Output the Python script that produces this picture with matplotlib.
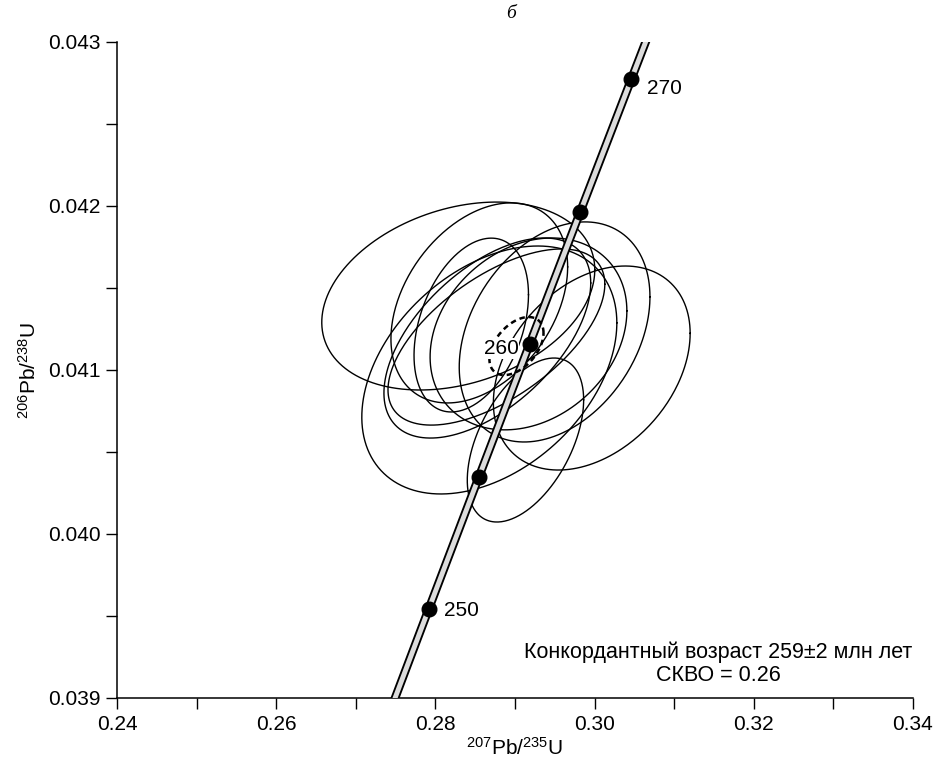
import numpy as np
import matplotlib
matplotlib.use("Agg")
import matplotlib.pyplot as plt

plt.rcParams['font.family'] = ['Liberation Sans', 'DejaVu Sans']
plt.rcParams['mathtext.fontset'] = 'custom'
plt.rcParams['mathtext.rm'] = 'Liberation Sans'
plt.rcParams['mathtext.it'] = 'Liberation Sans:italic'

# Decay constants (1/yr)
LAMBDA_238 = 1.55125e-10
LAMBDA_235 = 9.8485e-10

# Concordia age marks, Ma
mark_ages = [250, 255, 260, 265, 270]
labelled_ages = [250, 260, 270]

# Analyses: 207Pb/235U, 206Pb/238U, error half-widths and error correlation
x_centres = [0.28288, 0.29965, 0.29132, 0.28678, 0.28552, 0.28451, 0.29170, 0.29498, 0.28653, 0.28767]
y_centres = [0.041451, 0.041012, 0.040573, 0.041000, 0.041409, 0.041274, 0.041220, 0.041232, 0.041195, 0.041201]
x_errors = [0.01715, 0.01236, 0.00731, 0.01602, 0.01110, 0.00719, 0.01236, 0.01198, 0.01299, 0.01362]
y_errors = [0.000573, 0.000622, 0.000500, 0.000756, 0.000610, 0.000530, 0.000585, 0.000671, 0.000610, 0.000537]
rhos = [0.28, 0.34, 0.49, 0.38, 0.36, 0.35, 0.24, 0.32, 0.55, 0.60]

# Concordia age ellipse
conc_x, conc_y = 0.29019, 0.041146
conc_sx, conc_sy, conc_rho = 0.0034, 0.000177, 0.45


def ellipse_xy(cx, cy, sx, sy, rho, n=300):
    t = np.linspace(0, 2 * np.pi, n)
    x = cx + sx * np.cos(t)
    y = cy + sy * (rho * np.cos(t) + np.sqrt(1 - rho ** 2) * np.sin(t))
    return x, y


def concordia(age_ma):
    t = np.asarray(age_ma, dtype=float) * 1e6
    return np.expm1(LAMBDA_235 * t), np.expm1(LAMBDA_238 * t)


fig = plt.figure(figsize=(9.35, 7.65), dpi=100)
ax = fig.add_axes([0.1251, 0.0876, 0.8513, 0.8575])
ax.set_xlim(0.24, 0.34)
ax.set_ylim(0.039, 0.043)

# analysis ellipses
for cx, cy, sx, sy, r in zip(x_centres, y_centres, x_errors, y_errors, rhos):
    ex, ey = ellipse_xy(cx, cy, sx, sy, r)
    ax.plot(ex, ey, color='black', lw=1.0, zorder=2)

# concordia band
ages = np.linspace(240, 280, 400)
cxs, cys = concordia(ages)
ax.plot(cxs, cys, color='black', lw=6.2, solid_capstyle='butt', zorder=3)
ax.plot(cxs, cys, color='#dcdcdc', lw=3.5, solid_capstyle='butt', zorder=4)

mx, my = concordia(mark_ages)
ax.plot(mx, my, 'o', color='black', ms=10.5, zorder=5)
label_offsets = {250: (11, -1, 'left'), 260: (-8, -3, 'right'), 270: (11, -7, 'left')}
for age, x, y in zip(mark_ages, mx, my):
    if age in labelled_ages:
        ox, oy, ha = label_offsets[age]
        box = dict(facecolor='white', edgecolor='none', pad=0.5) if age == 260 else None
        ax.annotate(str(age), (x, y), xytext=(ox, oy), textcoords='offset points',
                    ha=ha, va='center', fontsize=15, zorder=7, bbox=box)

# concordia age ellipse
dx, dy = ellipse_xy(conc_x, conc_y, conc_sx, conc_sy, conc_rho)
ax.plot(dx, dy, color='black', lw=1.8, ls=(0, (2.2, 1.6)), zorder=6)

# axes styling
for side in ('top', 'right'):
    ax.spines[side].set_visible(False)
for side in ('left', 'bottom'):
    ax.spines[side].set_linewidth(1.1)

xt = np.round(np.arange(0.24, 0.3401, 0.01), 2)
ax.set_xticks(xt)
ax.set_xticklabels([f'{v:.2f}' if round(v * 100) % 2 == 0 else '' for v in xt])
yt = np.round(np.arange(0.039, 0.04301, 0.0005), 4)
ax.set_yticks(yt)
ax.set_yticklabels([f'{v:.3f}' if round(v * 10000) % 10 == 0 else '' for v in yt])
ax.tick_params(direction='out', length=8, width=1.0, labelsize=15, pad=4)

ax.set_xlabel(r'$^{207}$Pb/$^{235}$U', fontsize=15, labelpad=2)
ax.set_ylabel(r'$^{206}$Pb/$^{238}$U', fontsize=15, labelpad=6)

ax.text(0.755, 0.052, 'Конкордантный возраст 259±2 млн лет\nСКВО = 0.26',
        transform=ax.transAxes, ha='center', va='center', fontsize=15.5, linespacing=1.1)

fig.text(0.547, 0.993, 'б', ha='center', va='top', fontsize=14,
         family=['Liberation Serif'], style='italic')

fig.savefig('out.png', dpi=100)
